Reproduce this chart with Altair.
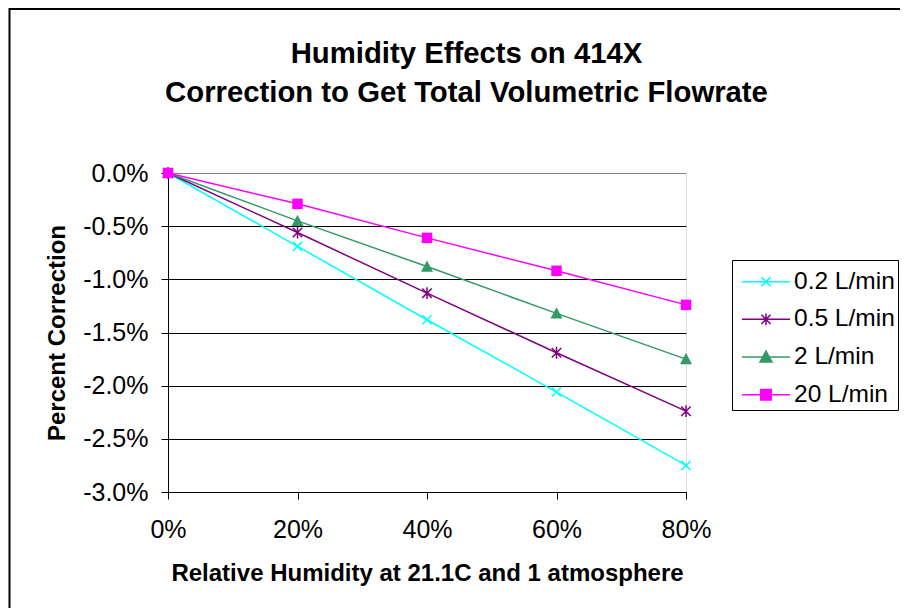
import altair as alt
import pandas as pd

# ---- data ----
rh = [0, 20, 40, 60, 80]
series = ["0.2 L/min", "0.5 L/min", "2 L/min", "20 L/min"]
v02 = [0.0, -0.69, -1.38, -2.06, -2.75]
v05 = [0.0, -0.56, -1.13, -1.69, -2.24]
v2 = [0.0, -0.45, -0.88, -1.32, -1.75]
v20 = [0.0, -0.29, -0.61, -0.92, -1.24]
colors = ["#00FFFF", "#800080", "#339966", "#FF00FF"]
x_ticks = [0, 20, 40, 60, 80]
y_ticks = [0, -0.5, -1.0, -1.5, -2.0, -2.5, -3.0]

rows = []
for s, vals in zip(series, [v02, v05, v2, v20]):
    for x, v in zip(rh, vals):
        rows.append({"rh": x, "corr": v, "series": s})
df = pd.DataFrame(rows)

FONT = "Liberation Sans"

# marker shapes (unit square paths)
marker_paths = [
    "M-1,-1L1,1M-1,1L1,-1",
    "M-1,-1L1,1M-1,1L1,-1M0,-1.25L0,1.25",
    "M0,-1L1,0.85L-1,0.85Z",
    "M-1,-1H1V1H-1Z",
]
marker_sizes = [81, 90, 144, 110]
marker_filled = [False, False, True, True]

legend_paths = [
    "M-1,0H1M-0.19,-0.19L0.19,0.19M-0.19,0.19L0.19,-0.19",
    "M-1,0H1M-0.19,-0.19L0.19,0.19M-0.19,0.19L0.19,-0.19M0,-0.24L0,0.24",
    "M-1,0H1M0,-0.25L0.25,0.21L-0.25,0.21Z",
    "M-1,0H1M-0.22,-0.22H0.22V0.22H-0.22Z",
]

x_enc = alt.X(
    "rh:Q",
    scale=alt.Scale(domain=[0, 80], nice=False),
    axis=alt.Axis(
        values=x_ticks,
        labelExpr="datum.value + '%'",
        labelFont=FONT, labelFontSize=25, labelColor="black",
        labelFlush=False, labelOverlap=False, labelPadding=18,
        tickColor="black", tickSize=7, tickWidth=1,
        domainColor="black", domainWidth=1,
        grid=False,
        title="Relative Humidity at 21.1C and 1 atmosphere",
        titleFont=FONT, titleFontSize=24, titleFontWeight="bold",
        titleColor="black", titleY=69,
    ),
)
y_enc = alt.Y(
    "corr:Q",
    scale=alt.Scale(domain=[-3, 0], nice=False, zero=False),
    axis=alt.Axis(
        values=y_ticks,
        labelExpr="(datum.value < 0 ? '-' : '') + format(abs(datum.value), '.1f') + '%'",
        labelFont=FONT, labelFontSize=25, labelColor="black",
        labelFlush=False, labelOverlap=False, labelPadding=13,
        tickColor="black", tickSize=7, tickWidth=1,
        domainColor="black", domainWidth=1,
        grid=True,
        gridColor={"condition": {"test": "datum.value === 0", "value": "#808080"}, "value": "black"},
        gridWidth=1,
        title="Percent Correction",
        titleFont=FONT, titleFontSize=24, titleFontWeight="bold",
        titleColor="black", titleX=-104, titleBaseline="alphabetic",
    ),
)

base = alt.Chart(df).encode(x=x_enc, y=y_enc)

lines = base.mark_line(strokeWidth=1.5).encode(
    color=alt.Color("series:N", scale=alt.Scale(domain=series, range=colors), legend=None)
)

point_layers = []
for s, c, p, sz, f in zip(series, colors, marker_paths, marker_sizes, marker_filled):
    point_layers.append(
        base.transform_filter(alt.datum.series == s).mark_point(
            shape=p, size=sz, filled=f, color=c, strokeWidth=1.5, opacity=1
        )
    )

leg = alt.Legend(
    title=" ", titleFontSize=2, titlePadding=4.7,
    orient="none", legendX=564, legendY=87,
    padding=3, strokeColor="black", fillColor="white",
    clipHeight=24, rowPadding=12.67, symbolOffset=6, labelOffset=3,
    labelFont=FONT, labelFontSize=24.5, labelColor="black", labelLimit=300,
    symbolSize=2304, symbolStrokeWidth=1.5, symbolOpacity=1,
)
# invisible layer whose only job is to provide the legend (line + marker symbols)
legend_layer = base.mark_point(filled=True, size=2304, strokeWidth=1.5).encode(
    shape=alt.Shape("series:N", scale=alt.Scale(domain=series, range=legend_paths), legend=leg),
    fill=alt.Fill("series:N", scale=alt.Scale(domain=series, range=colors), legend=leg),
    stroke=alt.Stroke("series:N", scale=alt.Scale(domain=series, range=colors), legend=leg),
    fillOpacity=alt.value(0),
    strokeOpacity=alt.value(0),
)

one = alt.Data(values=[{}])
frame_top = alt.Chart(one).mark_rule(color="black", strokeWidth=2).encode(
    x=alt.value(-159), x2=alt.value(733), y=alt.value(-164)
)
frame_left = alt.Chart(one).mark_rule(color="black", strokeWidth=2).encode(
    x=alt.value(-158.5), y=alt.value(-165), y2=alt.value(460)
)

chart = alt.layer(
    legend_layer, lines, *point_layers, frame_top, frame_left
).properties(
    width=518, height=319,
    padding={"left": 160, "top": 165, "right": 214, "bottom": 116},
    autosize=alt.AutoSizeParams(type="none"),
    title=alt.TitleParams(
        text=["Humidity Effects on 414X", "Correction to Get Total Volumetric Flowrate"],
        font=FONT, fontSize=29.3, fontWeight="bold", color="black",
        lineHeight=38.4, dx=39.5, anchor="middle", offset=-101,
    ),
).configure_view(stroke="#808080", strokeWidth=1).configure(background="white")

chart.save("out.html", embed_options={"renderer": "svg", "actions": False})
